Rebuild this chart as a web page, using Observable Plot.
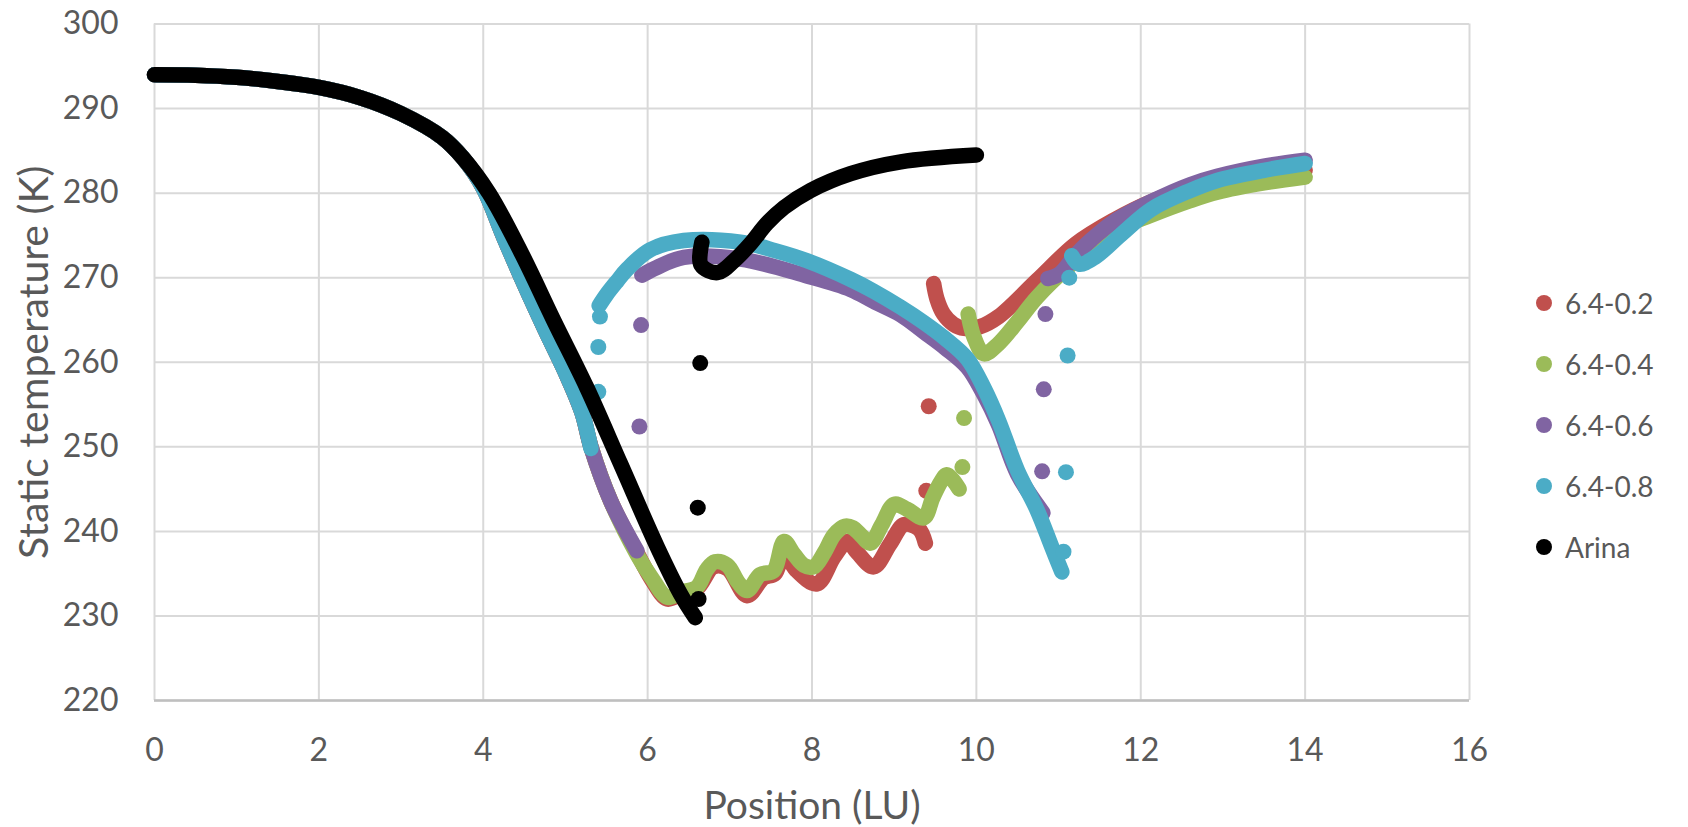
<!DOCTYPE html>
<html>
<head>
<meta charset="utf-8">
<script src="https://cdn.jsdelivr.net/npm/d3@7"></script>
<script src="https://cdn.jsdelivr.net/npm/@observablehq/plot@0.6"></script>
<style>
  html, body { margin: 0; padding: 0; background: #fff; }
  #wrap { position: relative; width: 1688px; height: 827px; overflow: hidden; font-family: Lato, "Open Sans", sans-serif; }
  #chart { position: absolute; left: 0; top: 0; }
  #legend { position: absolute; left: 1530px; top: 0; }
  .item { position: absolute; left: 0; height: 40px; display: flex; align-items: center; white-space: nowrap; color: #595959; font-size: 28px; }
  .sw { width: 16px; height: 16px; border-radius: 50%; margin-left: 6px; margin-right: 13px; }
</style>
</head>
<body>
<div id="wrap"><div id="chart"></div><div id="legend"></div></div>
<script>
// ---- data ----
const seriesNames = ["6.4-0.2", "6.4-0.4", "6.4-0.6", "6.4-0.8", "Arina"];
const xTicks = [0, 2, 4, 6, 8, 10, 12, 14, 16];
const yTicks = [220, 230, 240, 250, 260, 270, 280, 290, 300];
const xLabel = "Position (LU)";
const yLabel = "Static temperature (K)";

// 6.4-0.2
const red_seg1 = [[0,294.0],[0.5,293.95],[1.0,293.7],[1.5,293.2],[2.0,292.5],[2.5,291.3],[3.0,289.4],[3.5,286.6],[3.75,284.2],[4.0,280.6],[4.25,274.8],[4.5,269.2],[4.75,263.9],[5.0,258.8],[5.2,254.1],[5.31,250.0],[5.55,243.6],[5.87,237.5],[6.05,234.3],[6.24,232.0],[6.40,232.6],[6.60,233.2],[6.80,235.8],[6.97,235.6],[7.21,232.4],[7.41,234.5],[7.55,235.0],[7.66,237.5],[7.80,235.5],[8.06,233.8],[8.27,237.0],[8.43,238.8],[8.55,237.5],[8.75,235.8],[8.95,238.5],[9.12,240.8],[9.30,240.3],[9.38,238.6]];
const red_dots = [[9.39,244.8],[9.42,254.8]];
const red_seg2 = [[9.48,269.3],[9.52,267.5],[9.60,265.7],[9.72,264.5],[9.85,264.0],[10.04,264.2],[10.27,265.4],[10.74,269.7],[11.21,274.0],[11.67,276.8],[12.13,279.0],[12.6,280.6],[13.3,282.0],[14.0,282.7]];

// 6.4-0.4
const green_seg1 = [[0,294.0],[0.5,293.95],[1.0,293.7],[1.5,293.2],[2.0,292.5],[2.5,291.3],[3.0,289.4],[3.5,286.6],[3.75,284.2],[4.0,280.6],[4.25,274.8],[4.5,269.2],[4.75,263.9],[5.0,258.8],[5.2,254.1],[5.31,250.0],[5.55,243.6],[5.87,237.3],[6.05,234.5],[6.24,232.2],[6.40,232.8],[6.60,233.4],[6.72,235.5],[6.82,236.4],[6.97,236.0],[7.10,234.0],[7.21,233.0],[7.37,234.9],[7.53,235.3],[7.66,238.8],[7.78,237.3],[7.90,236.0],[8.02,235.8],[8.15,237.5],[8.27,239.6],[8.40,240.6],[8.50,240.4],[8.60,239.5],[8.71,238.6],[8.85,240.8],[9.00,243.2],[9.16,242.6],[9.36,241.6],[9.47,244.0],[9.57,245.9],[9.64,246.7],[9.72,246.0],[9.79,245.0]];
const green_dots = [[9.83,247.6],[9.85,253.4]];
const green_seg2 = [[9.90,265.7],[9.93,264.3],[9.97,263.0],[10.09,261.0],[10.27,262.2],[10.50,264.8],[10.74,267.7],[11.11,271.2],[11.67,275.5],[12.13,277.4],[12.6,279.1],[12.93,280.1],[13.5,281.2],[14.0,281.9]];

// 6.4-0.6
const purple_seg1 = [[0,294.0],[0.5,293.95],[1.0,293.7],[1.5,293.2],[2.0,292.5],[2.5,291.3],[3.0,289.4],[3.5,286.6],[3.75,284.2],[4.0,280.6],[4.25,274.8],[4.5,269.2],[4.75,263.9],[5.0,258.8],[5.2,254.1],[5.31,250.0],[5.55,243.6],[5.87,237.7]];
const purple_dots1 = [[5.90,252.4],[5.92,264.4]];
const purple_seg2 = [[5.93,270.3],[6.11,271.2],[6.44,272.4],[7.13,272.2],[7.94,270.2],[8.47,268.6],[8.75,267.2],[9.08,265.6],[9.36,263.6],[9.62,261.7],[9.89,259.4],[10.09,256.2],[10.27,252.6],[10.50,246.8],[10.81,242.2]];
const purple_dots2 = [[10.80,247.1],[10.82,256.8],[10.84,265.7]];
const purple_seg3 = [[10.87,269.9],[11.02,270.5],[11.2,272.6],[11.4,274.5],[11.67,276.6],[12.13,279.0],[12.6,281.0],[12.93,282.0],[13.5,283.2],[14.0,283.9]];

// 6.4-0.8
const cyan_seg1 = [[0,294.0],[0.5,293.95],[1.0,293.7],[1.5,293.2],[2.0,292.5],[2.5,291.3],[3.0,289.4],[3.5,286.6],[3.75,284.2],[4.0,280.6],[4.25,274.8],[4.5,269.2],[4.75,263.9],[5.0,258.8],[5.2,254.1],[5.31,249.8]];
const cyan_dots1 = [[5.40,256.5],[5.40,261.8],[5.42,265.4]];
const cyan_seg2 = [[5.41,266.7],[5.50,268.0],[5.63,269.6],[5.75,271.0],[6.03,273.3],[6.44,274.4],[7.13,274.2],[7.55,273.2],[7.94,272.0],[8.47,269.8],[8.75,268.4],[9.08,266.5],[9.36,264.7],[9.62,262.8],[9.89,260.4],[10.09,257.0],[10.27,253.1],[10.50,247.2],[10.74,242.5],[10.92,238.1],[11.04,235.2]];
const cyan_dots2 = [[11.06,237.6],[11.09,247.0],[11.11,260.8],[11.13,270.0]];
const cyan_seg3 = [[11.16,272.6],[11.25,271.6],[11.44,272.4],[11.76,275.1],[12.13,278.1],[12.6,280.3],[12.93,281.5],[13.5,282.7],[14.0,283.5]];

// Arina
const arina_seg1 = [[0,294.0],[0.5,293.95],[1.0,293.7],[1.5,293.2],[2.0,292.5],[2.5,291.3],[3.0,289.4],[3.5,286.6],[3.75,284.2],[4.07,280.0],[4.47,272.8],[4.86,264.9],[5.26,257.0],[5.67,248.0],[6.12,238.1],[6.40,232.6],[6.58,229.8]];
const arina_dots = [[6.62,232.0],[6.61,242.8],[6.64,259.9]];
const arina_seg2 = [[6.66,274.2],[6.65,271.5],[6.85,270.6],[7.05,272.0],[7.25,274.0],[7.45,276.4],[7.66,278.3],[7.98,280.3],[8.47,282.3],[9.08,283.7],[10.0,284.5]];

// ---- styling ----
const colors = ["#C0504D", "#9BBB59", "#8064A2", "#4BACC6", "#000000"];
const seriesLines = [
  [red_seg1, red_seg2],
  [green_seg1, green_seg2],
  [purple_seg1, purple_seg2, purple_seg3],
  [cyan_seg1, cyan_seg2, cyan_seg3],
  [arina_seg1, arina_seg2]
];
const seriesDots = [
  [red_dots],
  [green_dots],
  [purple_dots1, purple_dots2],
  [cyan_dots1, cyan_dots2],
  [arina_dots]
];

const marks = [
  Plot.gridX(xTicks, {stroke: "#d9d9d9", strokeOpacity: 1, strokeWidth: 2}),
  Plot.gridY(yTicks, {stroke: "#d9d9d9", strokeOpacity: 1, strokeWidth: 2}),
  Plot.ruleY([220], {stroke: "#bfbfbf", strokeWidth: 2.5}),
  Plot.axisX(xTicks, {tickSize: 0, tickPadding: 38, fontSize: 32, fill: "#595959", label: null}),
  Plot.axisY(yTicks, {tickSize: 0, tickPadding: 36, fontSize: 32, fill: "#595959", label: null}),
  Plot.text([xLabel], {frameAnchor: "bottom", dy: 106, fontSize: 39, fill: "#595959", textAnchor: "middle", lineAnchor: "middle"}),
  Plot.text([yLabel], {frameAnchor: "left", dx: -120, dy: 0, rotate: -90, fontSize: 41, fill: "#595959", textAnchor: "middle", lineAnchor: "middle"})
];

seriesNames.forEach((name, i) => {
  const rows = [];
  seriesLines[i].forEach((seg, k) => seg.forEach(([x, y]) => rows.push({x, y, seg: k})));
  marks.push(Plot.line(rows, {x: "x", y: "y", z: "seg", stroke: colors[i], strokeWidth: 15.5,
    curve: "catmull-rom", strokeLinecap: "round", strokeLinejoin: "round"}));
  const drows = [];
  seriesDots[i].forEach(group => group.forEach(([x, y]) => drows.push({x, y})));
  marks.push(Plot.dot(drows, {x: "x", y: "y", r: 8, fill: colors[i], stroke: null}));
});

const chart = Plot.plot({
  width: 1500,
  height: 827,
  marginLeft: 154,
  marginRight: 31,
  marginTop: 23.5,
  marginBottom: 127,
  x: {domain: [0, 16]},
  y: {domain: [220, 300]},
  style: {fontFamily: "Lato, 'Open Sans', sans-serif", background: "#fff", overflow: "visible"},
  marks
});
document.getElementById("chart").appendChild(chart);

// legend
const legendTops = [303, 364, 425, 486, 547];
const legend = document.getElementById("legend");
seriesNames.forEach((name, i) => {
  const it = document.createElement("div");
  it.className = "item";
  it.style.top = (legendTops[i] - 20) + "px";
  const sw = document.createElement("div");
  sw.className = "sw";
  sw.style.background = colors[i];
  const t = document.createElement("span");
  t.textContent = name;
  it.appendChild(sw); it.appendChild(t);
  legend.appendChild(it);
});
</script>
</body>
</html>
